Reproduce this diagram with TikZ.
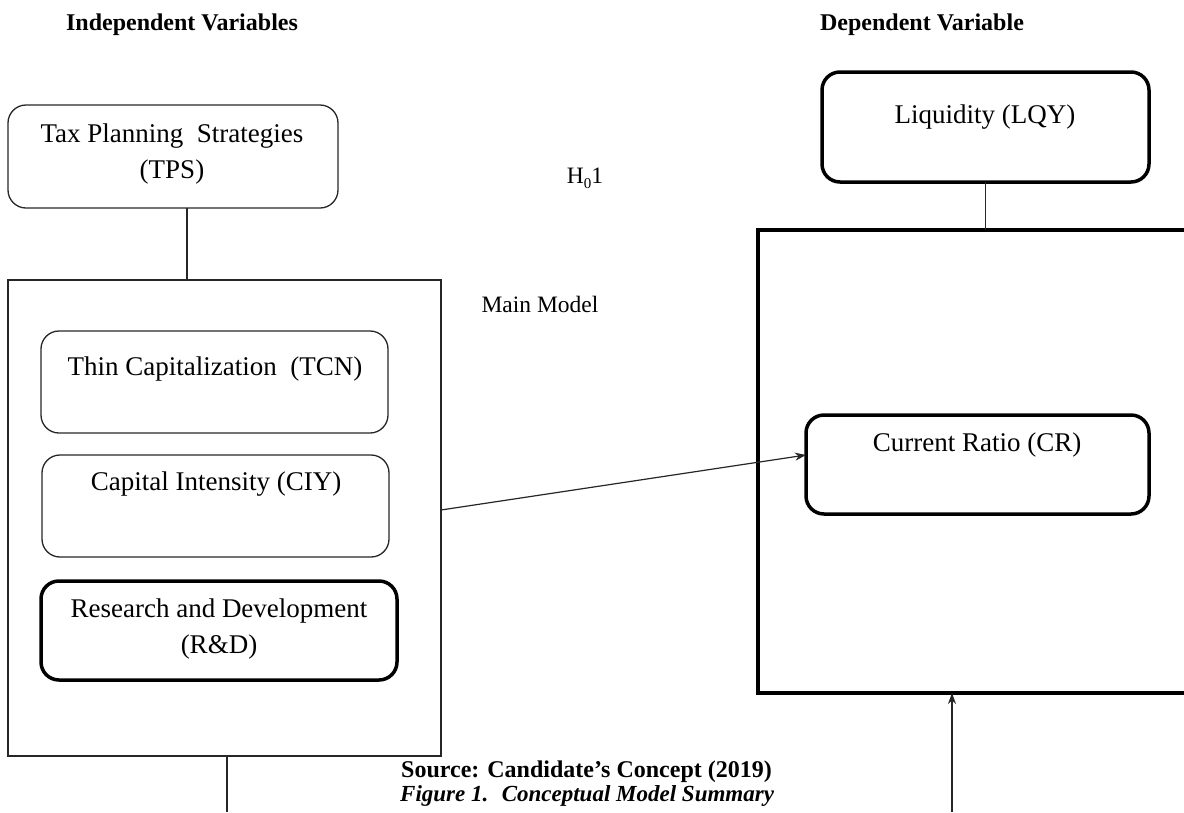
\documentclass[tikz,border=0pt]{standalone}
\usepackage{fontspec}
\setmainfont{Liberation Serif}
\usetikzlibrary{arrows.meta}
\begin{document}
\begin{tikzpicture}[x=1pt,y=-1pt,
  thinbox/.style={draw=black!85,line width=1.3pt,rounded corners=18pt,inner sep=0pt,outer sep=0pt},
  thickbox/.style={draw=black,line width=3.5pt,rounded corners=18pt,inner sep=0pt,outer sep=0pt},
  plainbox/.style={draw=black!85,line width=1.3pt,inner sep=0pt,outer sep=0pt},
  heavybox/.style={draw=black,line width=4pt,inner sep=0pt,outer sep=0pt},
  boxtxt/.style={inner sep=0pt,align=center,font=\fontsize{27}{36}\selectfont},
  title/.style={inner sep=0pt,font=\fontsize{24}{28}\selectfont\bfseries},
  lbl/.style={inner sep=0pt,font=\fontsize{23.5}{28}\selectfont},
  conn/.style={draw=black!85,line width=1.3pt},
  arr/.style={draw=black!85,line width=1.2pt,-{Stealth[length=11pt,width=8pt,inset=3.5pt]}}
]
\useasboundingbox (0,0) rectangle (1184,812);

% titles
\node[title,anchor=base] (indep) at (182,30) {Independent Variables};
\node[title,anchor=base] (dep) at (922,30) {Dependent Variable};

% left side
\node[thinbox,minimum width=330pt,minimum height=103pt] (tps) at (173,156.5) {};
\node[boxtxt,anchor=north] (tpst) at (172,124) {Tax Planning~ Strategies\\(TPS)};

\node[plainbox,minimum width=433pt,minimum height=476pt] (main) at (224.5,518) {};

\node[thinbox,minimum width=347pt,minimum height=102pt] (tcn) at (214.5,382) {};
\node[boxtxt,anchor=base] (tcnt) at (215,375) {Thin Capitalization~ (TCN)};

\node[thinbox,minimum width=347pt,minimum height=102pt] (ciy) at (215.5,506) {};
\node[boxtxt,anchor=base] (ciyt) at (216,490) {Capital Intensity (CIY)};

\node[thickbox,minimum width=356pt,minimum height=99pt] (rd) at (219,630.5) {};
\node[boxtxt,anchor=north] (rdt) at (219,599) {Research and Development\\(R\&D)};

% labels
\node[lbl,anchor=base] (h01) at (585,183) {H\raisebox{-0.22em}{\fontsize{15}{15}\selectfont 0}1};
\node[lbl,anchor=base] (mm) at (540,312) {Main Model};

% right side
\node[thickbox,minimum width=327pt,minimum height=110pt] (liq) at (985.5,127) {};
\node[boxtxt,anchor=base] (liqt) at (985,123) {Liquidity (LQY)};

\node[heavybox,minimum width=442pt,minimum height=463pt] (big) at (979,461.5) {};

\node[thickbox,minimum width=343pt,minimum height=99pt] (cr) at (977.5,464.5) {};
\node[boxtxt,anchor=base] (crt) at (977,451) {Current Ratio (CR)};

% source
\node[title,anchor=base west] (src) at (401,777) {Source: Candidate’s Concept (2019)};
\node[title,anchor=base west,font=\fontsize{23}{28}\selectfont\bfseries\itshape] (fig) at (400,801) {Figure 1.~ Conceptual Model Summary};

% connectors
\draw[conn] ([xshift=14pt]tps.south) -- ([xshift=14pt]tps.south |- main.north);
\draw[conn] (liq.south) -- (liq.south |- big.north);
\coordinate (mbot) at (227,812);
\draw[conn] (mbot |- main.south) -- (mbot);
\draw[arr] ([yshift=8pt]main.east) -- ([yshift=9.5pt]cr.west);
\coordinate (abot) at (952,812);
\draw[arr] (abot) -- (abot |- big.south);
\end{tikzpicture}
\end{document}
